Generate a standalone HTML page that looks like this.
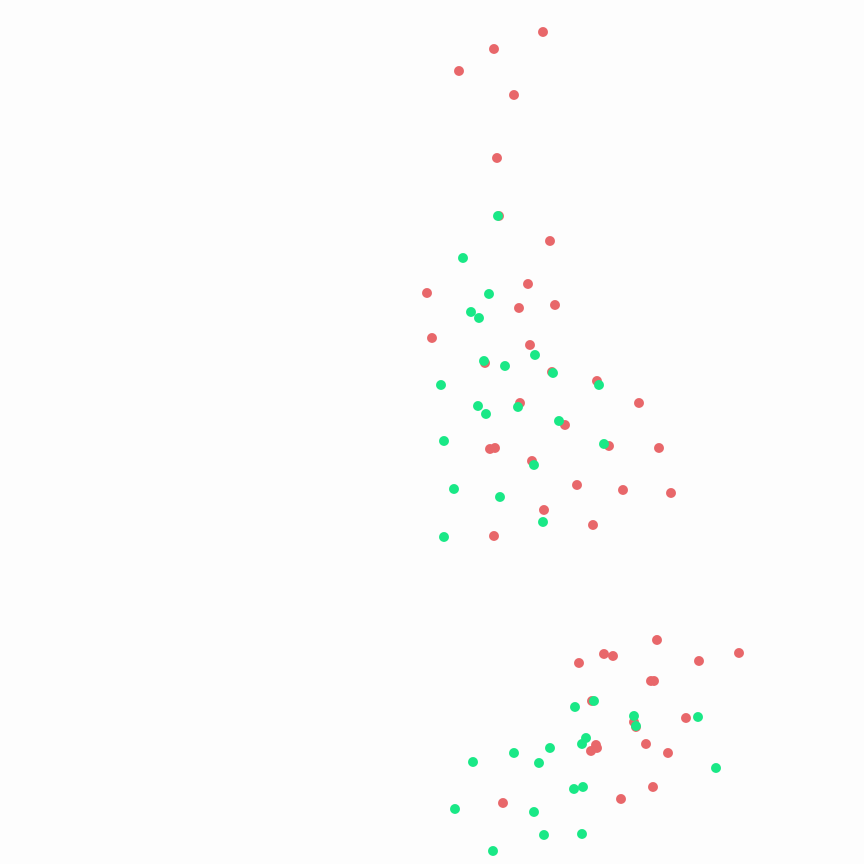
<!DOCTYPE html>
<html>
<head>
<meta charset="utf-8">
<style>
html,body{margin:0;padding:0;background:#fdfdfd;}
svg{display:block;}
</style>
</head>
<body>
<svg id="chart" width="864" height="864" xmlns="http://www.w3.org/2000/svg">
<rect x="0" y="0" width="864" height="864" fill="#fdfdfd"/>
<g id="red-series"></g>
<g id="green-series"></g>
</svg>
<script>
const redX = [543,494,459,514,497,499,550,528,427,519,555,432,530,485,552,597,639,520,565,609,659,490,495,532,577,623,671,544,593,494,657,579,604,613,699,739,651,654,592,686,634,636,646,668,596,591,597,653,621,503];
const redY = [832,815,793,769,706,648,623,580,571,556,559,526,519,501,492,483,461,461,439,418,416,415,416,403,379,374,371,354,339,328,224,201,210,208,203,211,183,183,163,146,142,137,120,111,119,113,116,77,65,61];
const greenX = [498,463,489,471,479,484,505,535,553,441,599,478,486,518,559,604,444,534,454,500,543,444,575,594,634,636,698,586,582,550,514,473,539,716,583,574,455,534,544,582,493];
const greenY = [648,606,570,552,546,503,498,509,491,479,479,458,450,457,443,420,423,399,375,367,342,327,157,163,148,138,147,126,120,116,111,102,101,96,77,75,55,52,29,30,13];

const domain = [0, 864];
function xScale(v){ return (v - domain[0]) / (domain[1] - domain[0]) * 864; }
function yScale(v){ return 864 - (v - domain[0]) / (domain[1] - domain[0]) * 864; }

const NS = "http://www.w3.org/2000/svg";
function draw(gid, xs, ys, color, name){
  const g = document.getElementById(gid);
  for (let i = 0; i < xs.length; i++){
    const c = document.createElementNS(NS, "circle");
    c.setAttribute("cx", xScale(xs[i]));
    c.setAttribute("cy", yScale(ys[i]));
    c.setAttribute("r", 5);
    c.setAttribute("fill", color);
    
    
    g.appendChild(c);
  }
}
draw("red-series", redX, redY, "#e8676a", "red-point");
draw("green-series", greenX, greenY, "#19e886", "green-point");
</script>
</body>
</html>
